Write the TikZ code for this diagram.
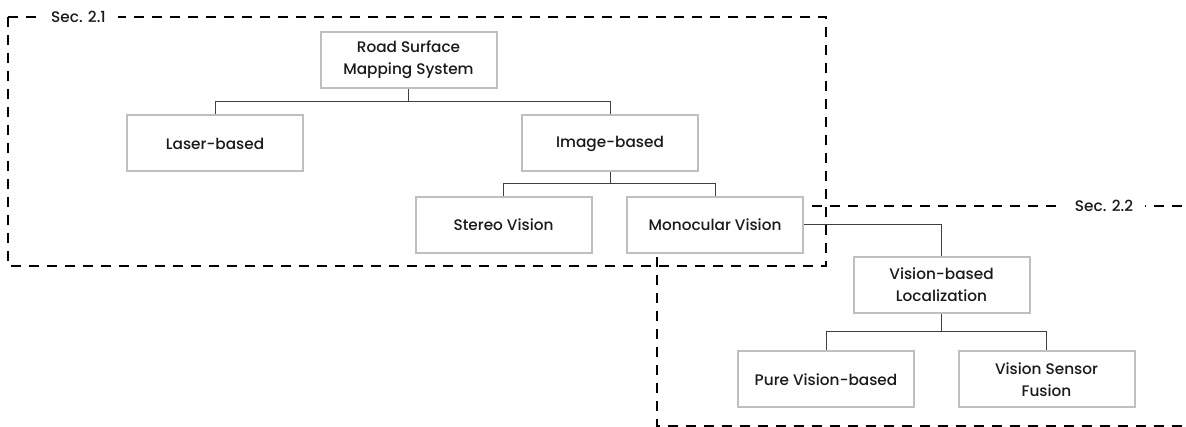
\documentclass[tikz,border=0pt]{standalone}
\usepackage{fontspec}
\setmainfont{Poppins}[UprightFont={* Medium}]
\definecolor{boxgray}{HTML}{BFBFBF}
\definecolor{linkgray}{HTML}{404040}
\definecolor{txt}{HTML}{1A1A1A}
\tikzset{
  block/.style={draw=boxgray, line width=2pt, fill=white, text=txt,
    minimum width=176pt, minimum height=56pt, inner sep=0pt, align=center,
    font=\fontsize{15.3}{22}\selectfont},
  link/.style={draw=linkgray, line width=1pt},
  secline/.style={draw=black, line width=2.8pt, dash pattern=on 10pt off 8pt},
  seclabel/.style={fill=white, text=txt, inner xsep=12pt, inner ysep=3pt,
    font=\fontsize{15.3}{17}\selectfont}
}
\begin{document}
\begin{tikzpicture}[x=1pt, y=-1pt]
  \useasboundingbox (0,0) rectangle (1186,427);
  \fill[white] (0,0) rectangle (1186,427);

  % section frames
  \coordinate (s1a) at (8,17);
  \coordinate (s1b) at (826,266);
  \draw[secline] (s1a) rectangle (s1b);
  \node[seclabel] (sec1) at (78.5,17) {Sec. 2.1};

  \coordinate (s2a) at (1200,206);
  \coordinate (s2b) at (657,206);
  \coordinate (s2c) at (657,426);
  \coordinate (s2d) at (1200,426);
  \draw[secline] (s2a) -- (s2b) -- (s2c) -- (s2d);
  \node[seclabel] (sec2) at (1104,206) {Sec. 2.2};

  % boxes
  \node[block] (rs)     at (408.5,60)   {Road Surface\\Mapping System};
  \node[block] (laser)  at (215,143.5)  {Laser-based};
  \node[block] (image)  at (610,143.5)  {Image-based};
  \node[block] (stereo) at (503.5,225)  {Stereo Vision};
  \node[block] (mono)   at (715,225)    {Monocular Vision};
  \node[block] (vbl)    at (941.5,285)  {Vision-based\\Localization};
  \node[block] (pure)   at (826,379.5)  {Pure Vision-based};
  \node[block] (fusion) at (1046.5,379.5) {Vision Sensor\\Fusion};

  % tree connectors
  \draw[link] (rs.south) -- ++(0,12.5) -| (laser.north);
  \draw[link] (rs.south) -- ++(0,12.5) -| (image.north);
  \draw[link] (image.south) -- ++(0,11.5) -| (stereo.north);
  \draw[link] (image.south) -- ++(0,11.5) -| (mono.north);
  \draw[link] (mono.east) -| (vbl.north);
  \draw[link] (vbl.south) -- ++(0,18) -| (pure.north);
  \draw[link] (vbl.south) -- ++(0,18) -| (fusion.north);
\end{tikzpicture}
\end{document}
